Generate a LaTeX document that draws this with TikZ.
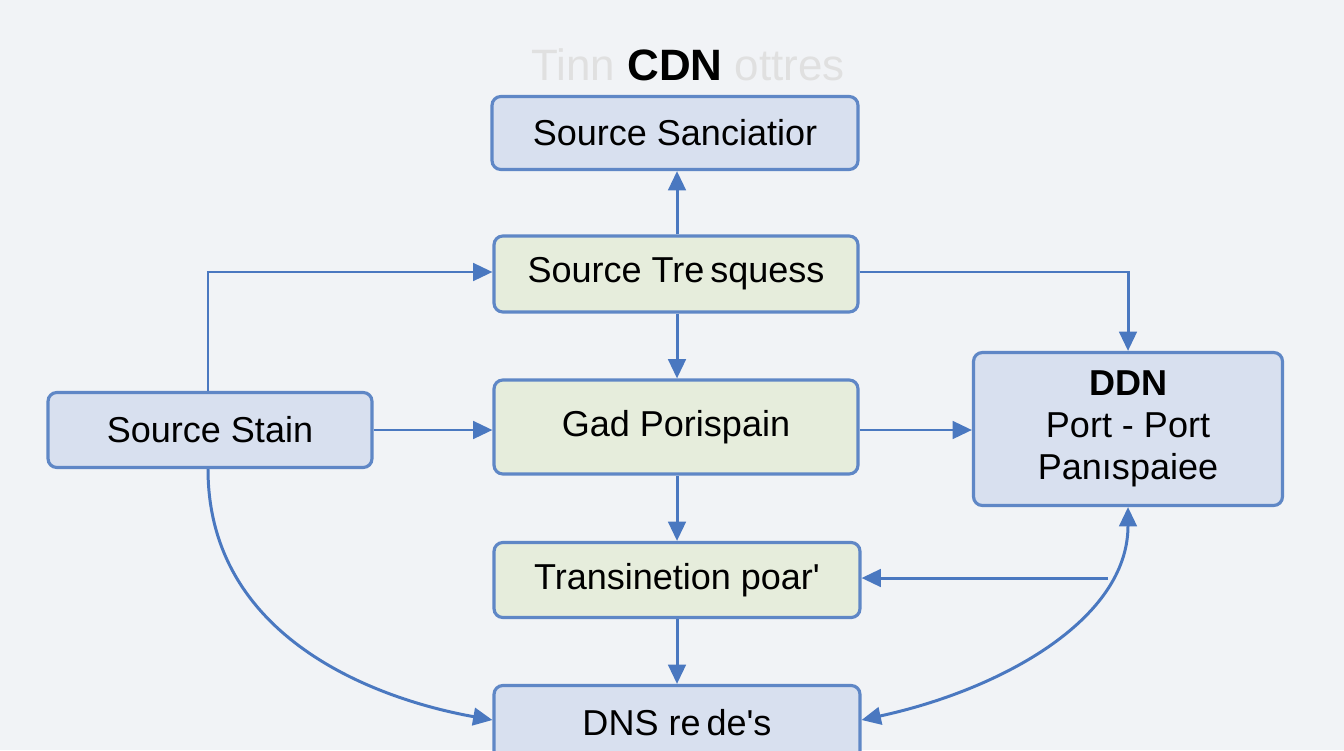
\documentclass[tikz,border=0pt]{standalone}
\usepackage{fontspec}
\setmainfont{Liberation Sans}
\usetikzlibrary{arrows.meta}
\definecolor{bord}{HTML}{5F87C6}
\definecolor{lin}{HTML}{4A78C0}
\definecolor{fb}{HTML}{D8E0EF}
\definecolor{fg}{HTML}{E6EDDC}
\definecolor{bg}{HTML}{F1F3F6}
\begin{document}
\begin{tikzpicture}[x=0.02cm,y=-0.02cm,
  box/.style={draw=bord,line width=1.8pt,rounded corners=5pt,font=\fontsize{20.5pt}{24pt}\selectfont,align=center,inner sep=0pt},
  bb/.style={box,fill=fb},
  gb/.style={box,fill=fg},
  ar/.style={draw=lin,line width=1.7pt,-{Triangle[length=11pt,width=10pt]}}]
\fill[bg] (0,0) rectangle (1344,750);
\useasboundingbox (0,0) rectangle (1344,750);
\node[font=\fontsize{25pt}{30pt}\selectfont] (t) at (688,65) {\textcolor{black!12}{Tinn} \textbf{CDN} \textcolor{black!12}{ottres}};
\node[bb,minimum width=7.32cm,minimum height=1.46cm] (ss) at (675,133) {Source Sanciatior};
\node[gb,minimum width=7.28cm,minimum height=1.52cm] (st) at (676,274) {Source Tre\,squess};
\node[gb,minimum width=7.28cm,minimum height=1.88cm] (gp) at (676,427) {Gad Porispain};
\node[gb,minimum width=7.32cm,minimum height=1.5cm] (tp) at (677,580) {Transinetion poar\textquotesingle};
\node[bb,minimum width=7.32cm,minimum height=1.5cm] (dns) at (677,723) {DNS re\,de\textquotesingle s};
\node[bb,minimum width=6.48cm,minimum height=1.5cm] (sst) at (210,430) {Source Stain};
\node[bb,minimum width=6.18cm,minimum height=3.06cm] (ddn) at (1128,429) {\textbf{DDN}\\Port - Port\\Pan\i spaiee};
\coordinate (cx) at (677,0);
\draw[ar] (st.north -| cx) -- (ss.south -| cx);
\draw[ar] (st.south -| cx) -- (gp.north -| cx);
\draw[ar] (gp.south -| cx) -- (tp.north -| cx);
\draw[ar] (tp.south -| cx) -- (dns.north -| cx);
\draw[ar] (sst.east |- 0,430) -- (gp.west |- 0,430);
\draw[ar] (gp.east |- 0,430) -- (ddn.west |- 0,430);
\draw[ar] (sst.north -| 208,0) -- (208,272) -- (st.west |- 0,272);
\draw[ar] (st.east |- 0,272) -- (1128,272) -- (ddn.north);
\draw[ar] (sst.south -| 208,0) .. controls (208,640) and (380,700) .. (dns.west |- 0,720);
\draw[ar,{Triangle[length=11pt,width=10pt]}-{Triangle[length=11pt,width=10pt]}] (dns.east |- 0,720) .. controls (1000,690) and (1128,620) .. (ddn.south);
\coordinate (br) at (1108,578);
\draw[ar] (br) -- (tp.east |- br);
\end{tikzpicture}
\end{document}
